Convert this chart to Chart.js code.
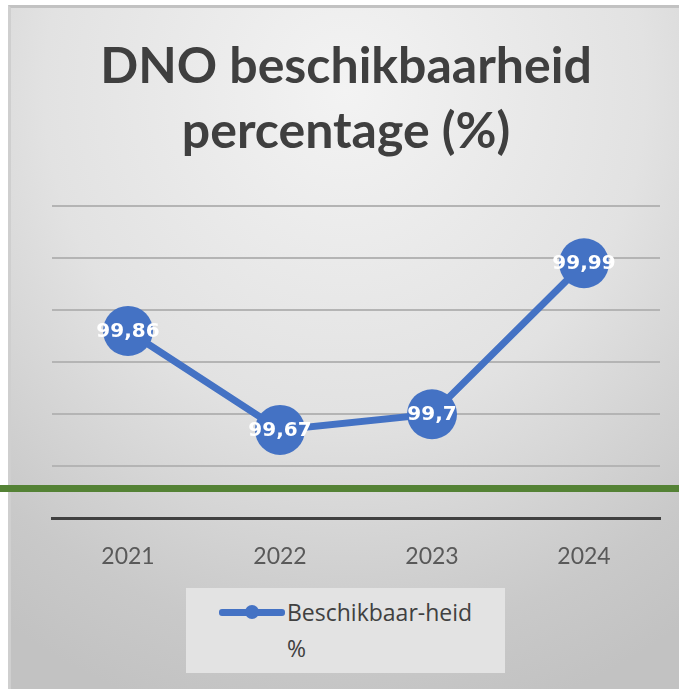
<!DOCTYPE html>
<html>
<head>
<meta charset="utf-8">
<script src="https://cdn.jsdelivr.net/npm/chart.js@4.4.1/dist/chart.umd.min.js"></script>
<style>
  html, body { margin: 0; padding: 0; background: #fff; }
  #wrap { position: relative; width: 679px; height: 689px; overflow: hidden; }
  #panel {
    position: absolute; left: 8px; top: 5px; right: 0; bottom: 0;
    border-top: 3px solid #c2c2c2; border-left: 3px solid #cfcfcf;
    background: radial-gradient(ellipse 90% 95% at 50% 12%, #f3f3f3 0%, #e2e2e2 50%, #c9c9c9 85%, #c2c2c2 100%);
  }
  #chart { position: absolute; left: 0; top: 0; }
  #legend {
    position: absolute; left: 186px; top: 588px; width: 319px; height: 85px;
    background: #e3e3e3; font-family: 'Open Sans', sans-serif; font-size: 23px; color: #404040;
  }
  #legend .sw { position: absolute; left: 33px; top: 21px; width: 66px; height: 7px; background: #4472c4; border-radius: 3px; }
  #legend .dot { position: absolute; left: 26px; top: -4px; width: 14px; height: 14px; border-radius: 50%; background: #4472c4; }
  #legend .txt { position: absolute; left: 101px; top: 6px; width: 195px; line-height: 36px; }
  #greenline { position: absolute; left: 0; top: 485px; width: 679px; height: 7px; background: #548235; }
</style>
</head>
<body>
<div id="wrap">
  <div id="panel"></div>
  <canvas id="chart" width="679" height="689"></canvas>
  <div id="legend"></div>
  <div id="greenline"></div>
</div>
<script>
// data
const years = ['2021', '2022', '2023', '2024'];
const availability = [99.86, 99.67, 99.7, 99.99];
const seriesName = 'Beschikbaar-heid %';
const titleLines = ['DNO beschikbaarheid', 'percentage (%)'];

const BLUE = '#4472c4';

// white value labels in the middle of each marker
const valueLabels = {
  id: 'valueLabels',
  afterDatasetsDraw(chart) {
    const ctx = chart.ctx;
    const meta = chart.getDatasetMeta(0);
    ctx.save();
    ctx.font = 'bold 20px "DejaVu Sans", sans-serif';
    ctx.fillStyle = '#ffffff';
    ctx.textAlign = 'center';
    ctx.textBaseline = 'middle';
    meta.data.forEach((pt, i) => {
      const txt = String(chart.data.datasets[0].data[i]).replace('.', ',');
      ctx.fillText(txt, pt.x, pt.y + 1);
    });
    ctx.restore();
  }
};

const chart = new Chart(document.getElementById('chart'), {
  type: 'line',
  data: {
    labels: years,
    datasets: [{
      label: seriesName,
      data: availability,
      borderColor: BLUE,
      backgroundColor: BLUE,
      borderWidth: 7,
      pointRadius: 25,
      pointBorderWidth: 0,
      pointBackgroundColor: BLUE,
      tension: 0
    }]
  },
  options: {
    responsive: false,
    animation: false,
    layout: { autoPadding: false, padding: { left: 32, right: 19, top: 0, bottom: 95 } },
    plugins: {
      legend: { display: false },
      tooltip: { enabled: false },
      title: {
        display: true,
        text: titleLines,
        color: '#3f3f3f',
        font: { family: 'Lato, sans-serif', size: 50, weight: 'bold', lineHeight: 1.3 },
        padding: { top: 34, bottom: 42 }
      }
    },
    scales: {
      x: {
        offset: true,
        grid: { display: false, drawTicks: false },
        border: { display: true, color: '#404040', width: 3 },
        ticks: { color: '#595959', font: { family: 'Lato, sans-serif', size: 23 }, padding: 24 }
      },
      y: {
        min: 99.5,
        max: 100.1,
        afterFit(scale) { scale.width = 20; },
        ticks: { display: false, stepSize: 0.1 },
        grid: { color: '#b4b4b4', lineWidth: 2, drawTicks: false },
        border: { display: false }
      }
    }
  },
  plugins: [valueLabels]
});

// legend built from the dataset
const lg = document.getElementById('legend');
lg.innerHTML = '<div class="sw"><div class="dot"></div></div><div class="txt">' +
  chart.data.datasets[0].label + '</div>';
</script>
</body>
</html>
